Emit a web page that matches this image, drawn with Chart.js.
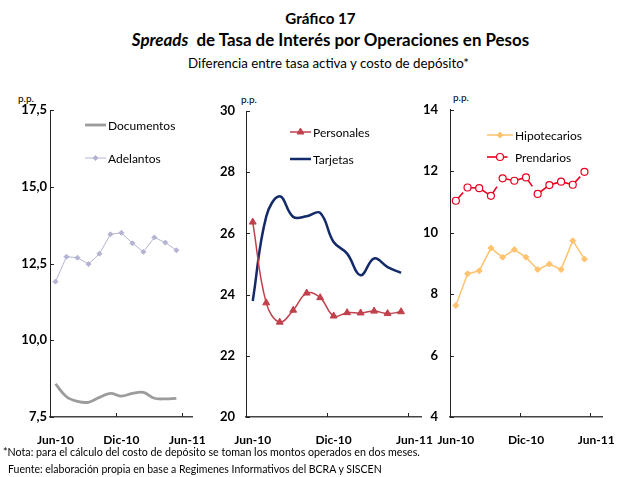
<!DOCTYPE html>
<html>
<head>
<meta charset="utf-8">
<script src="https://cdn.jsdelivr.net/npm/chart.js@4.4.0/dist/chart.umd.min.js"></script>
<style>
  body { margin: 0; background: #fff; font-family: Lato, "DejaVu Sans", sans-serif; }
  #wrap { position: relative; width: 631px; height: 477px; overflow: hidden; }
  canvas { position: absolute; }
  .t { position: absolute; white-space: nowrap; color: #000; }
  .c { width: 631px; text-align: center; }
</style>
</head>
<body>
<div id="wrap">
  <div class="t c" style="left:5px;top:9px;font-size:15.2px;font-weight:bold;">Gráfico 17</div>
  <div class="t c" style="left:15px;top:29px;font-size:16.9px;font-weight:bold;"><i>Spreads</i>&nbsp; de Tasa de Interés por Operaciones en Pesos</div>
  <div class="t c" style="left:13px;top:55px;font-size:13.3px;">Diferencia entre tasa activa y costo de depósito*</div>

  <div class="t" style="left:18px;top:92px;font-size:10px;">p.p.</div>
  <div class="t" style="left:241px;top:93px;font-size:10px;">p.p.</div>
  <div class="t" style="left:453px;top:91px;font-size:10px;">p.p.</div>

  <canvas id="c1" style="left:0px;top:90px;" width="222" height="360"></canvas>
  <canvas id="c2" style="left:200px;top:90px;" width="250" height="360"></canvas>
  <canvas id="c3" style="left:410px;top:90px;" width="221" height="360"></canvas>

  <div class="t" style="left:3px;top:445px;font-size:10.7px;">*Nota: para el cálculo del costo de depósito se toman los montos operados en dos meses.</div>
  <div class="t" style="left:8px;top:463px;font-size:10.5px;">Fuente: elaboración propia en base a Regimenes Informativos del BCRA y SISCEN</div>
</div>

<script>
// months Jun-10 .. Jun-11 (last one has no data)
const months = ['Jun-10', 'Jul-10', 'Ago-10', 'Sep-10', 'Oct-10', 'Nov-10', 'Dic-10',
                'Ene-11', 'Feb-11', 'Mar-11', 'Abr-11', 'May-11', 'Jun-11'];

const documentos   = [8.58, 8.16, 8.01, 7.98, 8.14, 8.27, 8.18, 8.27, 8.30, 8.11, 8.09, 8.11];
const adelantos    = [11.91, 12.72, 12.69, 12.48, 12.82, 13.45, 13.50, 13.16, 12.88, 13.35, 13.18, 12.93];

const personales   = [26.37, 23.73, 23.10, 23.49, 24.05, 23.90, 23.30, 23.41, 23.40, 23.46, 23.38, 23.44];
const tarjetas     = [23.79, 26.55, 27.21, 26.54, 26.56, 26.67, 25.72, 25.34, 24.63, 25.18, 24.90, 24.71];

const hipotecarios = [7.63, 8.66, 8.76, 9.50, 9.20, 9.45, 9.20, 8.80, 8.98, 8.80, 9.74, 9.14];
const prendarios   = [11.04, 11.47, 11.45, 11.20, 11.77, 11.69, 11.80, 11.26, 11.55, 11.66, 11.56, 11.98];

const FONT = 'Lato, "DejaVu Sans", sans-serif';

// small tick marks pointing into the plot, like the original
const innerTicks = {
    id: 'innerTicks',
    afterDraw(chart) {
        const ctx = chart.ctx;
        const a = chart.chartArea;
        const x = chart.scales.x;
        const y = chart.scales.y;
        ctx.save();
        ctx.strokeStyle = '#222';
        ctx.lineWidth = 1;
        y.ticks.forEach(t => {
            const py = Math.round(y.getPixelForValue(t.value)) + 0.5;
            ctx.beginPath();
            ctx.moveTo(a.left, py);
            ctx.lineTo(a.left + 4, py);
            ctx.stroke();
        });
        [6, 12].forEach(i => {
            const px = Math.round(x.getPixelForValue(i - 0.5)) + 0.5;
            ctx.beginPath();
            ctx.moveTo(px, a.bottom);
            ctx.lineTo(px, a.bottom - 4);
            ctx.stroke();
        });
        ctx.restore();
    }
};

// legend drawn inside the plot at fixed spots
const insideLegend = {
    id: 'insideLegend',
    afterDraw(chart, args, opts) {
        const ctx = chart.ctx;
        ctx.save();
        opts.items.forEach(it => {
            const ds = chart.data.datasets[it.index];
            const x0 = it.x - opts.ox, y0 = it.y - opts.oy;
            ctx.strokeStyle = ds.borderColor;
            ctx.lineWidth = ds.borderWidth;
            ctx.setLineDash(ds.legendDash || []);
            ctx.beginPath();
            ctx.moveTo(x0, y0);
            ctx.lineTo(x0 + it.len, y0);
            ctx.stroke();
            ctx.setLineDash([]);
            if (ds.pointRadius > 0) {
                ctx.fillStyle = ds.pointBackgroundColor;
                ctx.strokeStyle = ds.pointBorderColor;
                ctx.lineWidth = ds.pointBorderWidth;
                Chart.helpers.drawPoint(ctx, {
                    pointStyle: ds.pointStyle, radius: ds.pointRadius,
                    borderWidth: ds.pointBorderWidth, rotation: 0
                }, x0 + it.len / 2, y0);
            }
            ctx.fillStyle = '#000';
            ctx.font = '12px ' + FONT;
            ctx.textBaseline = 'middle';
            ctx.fillText(ds.label, x0 + it.len + 2, y0 + 1);
        });
        ctx.restore();
    }
};

function makePanel(id, ox, datasets, ymin, ymax, step, fmt, yw, ypad, pad, items) {
    new Chart(document.getElementById(id), {
        type: 'line',
        data: { labels: months, datasets: datasets },
        options: {
            responsive: false,
            animation: false,
            layout: { padding: pad },
            plugins: {
                legend: { display: false },
                tooltip: { enabled: false },
                insideLegend: { items: items, ox: ox, oy: 90 }
            },
            scales: {
                x: {
                    offset: true,
                    afterFit: s => { s.height = 33; },
                    grid: { display: false, drawTicks: false, offset: true },
                    border: { display: true, color: '#444', width: 1.5 },
                    ticks: {
                        autoSkip: false, maxRotation: 0, padding: 16,
                        color: '#000',
                        font: { family: FONT, size: 12, weight: 'bold' },
                        callback: (v, i) => i % 6 === 0 ? months[i] : ''
                    }
                },
                y: {
                    min: ymin, max: ymax,
                    afterFit: s => { s.width = yw; },
                    grid: { display: false, drawTicks: false },
                    border: { display: true, color: '#222', width: 1 },
                    ticks: {
                        stepSize: step, padding: ypad, color: '#000',
                        font: { family: FONT, size: 13, weight: 'bold' },
                        callback: v => fmt(v)
                    }
                }
            }
        },
        plugins: [innerTicks, insideLegend]
    });
}

const comma1 = v => v.toFixed(1).replace('.', ',');
const plain = v => String(v);

// segments of Prendarios where the dashed line leaves a gap
const brokenSeg = [0, 3, 6, 10];

makePanel('c1', 0, [
    {
        label: 'Documentos', data: documentos,
        borderColor: '#9c9c9c', borderWidth: 2.8, tension: 0.4,
        pointRadius: 0
    },
    {
        label: 'Adelantos', data: adelantos,
        borderColor: '#b3b3d3', borderWidth: 1, tension: 0,
        pointStyle: 'rectRot', pointRadius: 2.5,
        pointBackgroundColor: '#b3b3d3', pointBorderColor: '#b3b3d3', pointBorderWidth: 1
    }
], 7.5, 17.5, 2.5, comma1, 50, 3, { top: 20, right: 2, left: 0, bottom: 0 }, [
    { index: 0, x: 85, y: 125, len: 21 },
    { index: 1, x: 85, y: 158, len: 21 }
]);

makePanel('c2', 200, [
    {
        label: 'Personales', data: personales,
        borderColor: '#c0404c', borderWidth: 1.5, tension: 0.4,
        pointStyle: 'triangle', pointRadius: 4,
        pointBackgroundColor: '#c0404c', pointBorderColor: '#c0404c', pointBorderWidth: 1
    },
    {
        label: 'Tarjetas', data: tarjetas,
        borderColor: '#132a6b', borderWidth: 2.5, tension: 0.4,
        pointRadius: 0
    }
], 20, 30, 2, plain, 46, 11, { top: 21, right: 26, left: 0, bottom: 0 }, [
    { index: 0, x: 290, y: 132, len: 21 },
    { index: 1, x: 290, y: 159, len: 21 }
]);

makePanel('c3', 410, [
    {
        label: 'Hipotecarios', data: hipotecarios,
        borderColor: '#ffc26e', borderWidth: 1.5, tension: 0,
        pointStyle: 'rectRot', pointRadius: 3,
        pointBackgroundColor: '#ffc26e', pointBorderColor: '#ffc26e', pointBorderWidth: 1
    },
    {
        label: 'Prendarios', data: prendarios,
        borderColor: '#e8001e', borderWidth: 1.6, tension: 0,
        segment: {
            borderDash: ctx => brokenSeg.includes(ctx.p0DataIndex) ? [11, 100] : undefined
        },
        legendDash: [20.6, 10],
        pointStyle: 'circle', pointRadius: 3.5,
        pointBackgroundColor: '#fff', pointBorderColor: '#e8001e', pointBorderWidth: 1.2
    }
], 4, 14, 2, plain, 40, 12, { top: 19, right: 10, left: 0, bottom: 0 }, [
    { index: 0, x: 487, y: 135, len: 26 },
    { index: 1, x: 487, y: 157, len: 26 }
]);
</script>
</body>
</html>
